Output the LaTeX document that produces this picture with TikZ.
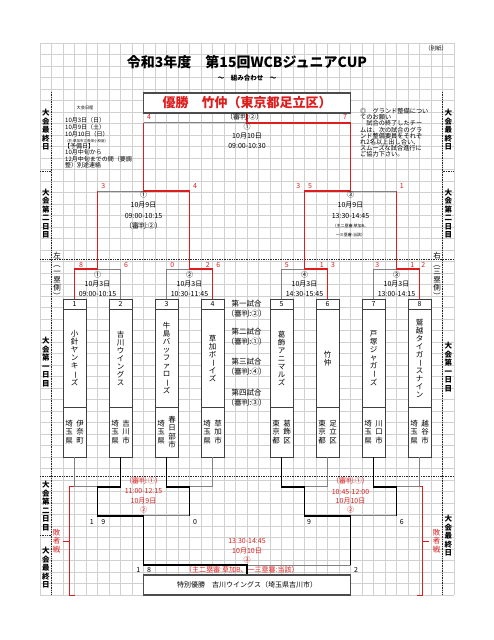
\documentclass[tikz,border=0pt]{standalone}
\usepackage{fontspec}
\setmainfont{Noto Sans CJK JP}
\usetikzlibrary{calc}
\definecolor{rd}{RGB}{222,30,30}
\definecolor{gr}{RGB}{130,130,130}
\definecolor{gridc}{RGB}{208,208,208}
\newcommand\vb{\rotatebox[origin=c]{-90}{ー}}
\newcommand\vlp{\rotatebox[origin=c]{-90}{（}}
\newcommand\vrp{\rotatebox[origin=c]{-90}{）}}
\newcommand\fs[2]{\fontsize{#1}{#2}\selectfont}
\newcommand\team[6]{%
  \node[cell,minimum height=10.5,font=\fs{7}{7}] (n#1) at (#2,304.25) {#3};
  \node[cell,minimum height=97.5,vtext,font=\fs{7.5}{8}] (nm#1) at (#2,358.25) {#4};
  \node[cell,minimum height=50] (ad#1) at (#2,432) {};
  \node[vtext,font=\fs{7.5}{8.5}] (pf#1) at ($(ad#1.center)+(-5.5,0)$) {#5};
  \node[vtext,font=\fs{7.5}{8.5}] (ct#1) at ($(ad#1.center)+(5.5,0)$) {#6};
}
\tikzset{
  gridl/.style={draw=gridc, line width=0.4},
  dots/.style={densely dotted, line width=0.7, draw=black!85},
  lose/.style={draw=gr, line width=0.7},
  win/.style={draw=rd, line width=1.8},
  cons/.style={draw=black, line width=1.8},
  txt/.style={inner sep=0, font=\fs{7}{7}},
  rtxt/.style={txt, text=rd},
  score/.style={inner sep=0, font=\fs{7}{7}, text=rd},
  bscore/.style={score, text=black},
  cell/.style={draw=black!75, line width=0.8, fill=white, inner sep=0, minimum width=23},
  vtext/.style={align=center, inner sep=0},
  side/.style={vtext, font=\fs{7.5}{8.5}\bfseries},
  note/.style={inner sep=0, anchor=west, font=\fs{6}{6}},
  rnote/.style={inner sep=0, anchor=west, font=\fs{6.2}{6.2}},
  bigbox/.style={draw=black!70, line width=1.8, fill=white, minimum width=207, minimum height=20, inner sep=0},
  brk/.style={draw=rd, line width=0.8},
}
\begin{document}
\begin{tikzpicture}[x=1pt,y=-1pt]
\useasboundingbox (0,0) rectangle (494,640);
\fill[white] (0,0) rectangle (494,640);
% grid
\foreach \i in {0,...,36} \draw[gridl] (40+\i*11.5,43) -- (40+\i*11.5,595);
\foreach \j in {0,...,48} \draw[gridl] (40,43+\j*11.5) -- (454,43+\j*11.5);
% dotted separators
\draw[dots] (51.5,92) -- (51.5,595);
\draw[dots] (442.5,92) -- (442.5,595);
\draw[dots] (40,171.7) -- (51.5,171.7);
\draw[dots] (442.5,171.7) -- (454,171.7);
\draw[dots] (40,259.3) -- (454,259.3);
\draw[dots] (40,476.7) -- (454,476.7);
\draw[dots] (40,535) -- (51.5,535);
% header
\node[inner sep=0,font=\fs{14}{14}\bfseries] (title) at (247,62.5) {令和3年度　第15回WCBジュニアCUP};
\node[inner sep=0,font=\fs{5.5}{5.5}] (bessi) at (436,48.3) {（別紙）};
\node[inner sep=0,font=\fs{6.5}{6.5}\bfseries] (kumi) at (247,77.7) {～　組み合わせ　～};
% champion
\node[bigbox,text=rd,font=\fs{13}{13}\bfseries] (champ) at (247,103) {優勝　竹仲（東京都足立区）};
% left notes
\node[inner sep=0,font=\fs{4.2}{4.2}] (nt0) at (85,108) {大会日程};
\node[note] (nt1) at (65,120.3) {10月3日（日）};
\node[note] (nt2) at (65,127.5) {10月9日（土）};
\node[note] (nt3) at (65,134.7) {10月10日（日）};
\node[note,font=\fs{3.5}{3.5}] (nt4) at (65,140.7) {（於:草加市立長栄小校庭）};
\node[note] (nt5) at (64,146.3) {【予備日】};
\node[note] (nt6) at (65,152.5) {10月中旬から};
\node[note] (nt7) at (65,158.8) {12月中旬までの間（要調};
\node[note] (nt8) at (65,165) {整）別途連絡};
% right notes
\node[rnote] (rn1) at (360,111.3) {◎　グランド整備につい};
\node[rnote] (rn2) at (360,117.4) {てのお願い};
\node[rnote] (rn3) at (360,123.6) {　試合の終了したチー};
\node[rnote] (rn4) at (360,129.7) {ムは、次の試合のグラ};
\node[rnote] (rn5) at (360,135.9) {ンド整備要員をそれぞ};
\node[rnote] (rn6) at (360,142) {れ2名以上出し合い、};
\node[rnote] (rn7) at (360,148.2) {スムーズな試合進行に};
\node[rnote] (rn8) at (360,154.3) {ご協力下さい。};
% side labels
\node[side] (sl1) at (45.8,130) {大\\会\\最\\終\\日};
\node[side] (sl2) at (45.8,213.5) {大\\会\\第\\二\\日\\目};
\node[side] (sl3) at (45.8,362) {大\\会\\第\\一\\日\\目};
\node[side] (sl4) at (45.8,506) {大\\会\\第\\二\\日\\目};
\node[side] (sl5) at (45.8,568) {大\\会\\最\\終\\日};
\node[side] (sr1) at (448.3,130) {大\\会\\最\\終\\日};
\node[side] (sr2) at (448.3,213.5) {大\\会\\第\\二\\日\\目};
\node[side] (sr3) at (448.3,367) {大\\会\\第\\一\\日\\目};
\node[side] (sr4) at (448.3,536) {大\\会\\最\\終\\日};
\node[vtext,font=\fs{7.5}{8}] (lside) at (57,276) {左\\\vlp\\一\\塁\\側\\\vrp};
\node[vtext,font=\fs{7.5}{8}] (rside) at (437,276) {右\\\vlp\\三\\塁\\側\\\vrp};
\node[vtext,font=\fs{7.5}{8.3},text=rd] (hl) at (56.7,541) {敗\\者\\戦};
\node[vtext,font=\fs{7.5}{8.3},text=rd] (hr) at (436.7,541) {敗\\者\\戦};
% red brackets
\coordinate (bl1) at (75,486.7); \coordinate (bl2) at (69,486.7);
\coordinate (bl3) at (69,595); \coordinate (bl4) at (75,595);
\coordinate (bl5) at (69,541); \coordinate (bl6) at (63,541);
\draw[brk] (bl1) -- (bl2) -- (bl3) -- (bl4);
\draw[brk] (bl5) -- (bl6);
\coordinate (br1) at (417,486.7); \coordinate (br2) at (422.7,486.7);
\coordinate (br3) at (422.7,595); \coordinate (br4) at (417,595);
\coordinate (br5) at (422.7,541); \coordinate (br6) at (428.5,541);
\draw[brk] (br1) -- (br2) -- (br3) -- (br4);
\draw[brk] (br5) -- (br6);
% teams
\team{1}{74.5}{1}{小\\針\\ヤ\\ン\\キ\\\vb\\ズ}{埼\\玉\\県}{伊\\奈\\町}
\team{2}{120.5}{2}{吉\\川\\ウ\\イ\\ン\\グ\\ス}{埼\\玉\\県}{吉\\川\\市}
\team{3}{166.5}{3}{牛\\島\\バ\\ッ\\フ\\ァ\\ロ\\\vb\\ズ}{埼\\玉\\県}{春\\日\\部\\市}
\team{4}{212.5}{4}{草\\加\\ボ\\\vb\\イ\\ズ}{埼\\玉\\県}{草\\加\\市}
\team{5}{281.5}{5}{葛\\飾\\ア\\ニ\\マ\\ル\\ズ}{東\\京\\都}{葛\\飾\\区}
\team{6}{327.5}{6}{竹\\仲}{東\\京\\都}{足\\立\\区}
\team{7}{373.5}{7}{戸\\塚\\ジ\\ャ\\ガ\\\vb\\ズ}{埼\\玉\\県}{川\\口\\市}
\team{8}{419.5}{8}{鷲\\越\\タ\\イ\\ガ\\\vb\\ス\\ナ\\イ\\ン}{埼\\玉\\県}{越\\谷\\市}
% bracket coordinates
\coordinate (m1) at (97.5,269); \coordinate (m2) at (189.5,269);
\coordinate (m4) at (304.5,269); \coordinate (m3) at (396.5,269);
\coordinate (sL) at (143.5,191); \coordinate (sR) at (350.5,191);
\coordinate (fC) at (247,122.7);
\coordinate (c1) at (97.5,486.7); \coordinate (c2) at (189.5,486.7);
\coordinate (c4) at (304.5,486.7); \coordinate (c3) at (396.5,486.7);
\coordinate (csL) at (143.5,515.7); \coordinate (csR) at (350.5,515.7);
\coordinate (cf) at (247,565);
% losing (gray) lines, upper
\draw[lose] (n2.north) |- (m1);
\draw[lose] (n3.north) |- (m2);
\draw[lose] (n5.north) |- (m4);
\draw[lose] (n7.north) |- (m3);
\draw[lose] (m1 |- sL) -- (sL);
\draw[lose] (m3 |- sR) -- (sR);
\draw[lose] (sL |- fC) -- (fC);
% winning (red) lines
\draw[win] (n1.north) |- (m1) -- (m1 |- sL);
\draw[win] (n4.north) |- (m2) -- (m2 |- sL) -- (sL) -- (sL |- fC);
\draw[win] (n6.north) |- (m4) -- (m4 |- sR) -- (sR) -- (sR |- fC) -- (fC) -- (champ.south);
\draw[win] (n8.north) |- (m3) -- (m3 |- sR);
% consolation gray
\draw[lose] (ad1.south) |- (c1);
\draw[lose] (ad4.south) |- (c2);
\draw[lose] (ad6.south) |- (c4);
\draw[lose] (ad8.south) |- (c3);
\draw[lose] (c2 |- csL) -- (csL);
\draw[lose] (c3 |- csR) -- (csR);
\draw[lose] (csR |- cf) -- (cf);
% special box
\node[bigbox,font=\fs{7}{7}] (spec) at (247,585) {特別優勝　吉川ウイングス（埼玉県吉川市）};
% consolation black
\draw[cons] (ad2.south) |- (c1) -- (c1 |- csL) -- (csL) -- (csL |- cf) -- (cf) -- (spec.north);
\draw[cons] (ad3.south) |- (c2) -- (c2 |- csL);
\draw[cons] (ad5.south) |- (c4) -- (c4 |- csR) -- (csR) -- (csR |- cf);
\draw[cons] (ad7.south) |- (c3) -- (c3 |- csR);
% final texts
\node[txt,anchor=west] (fj) at (226,117.3) {（審判:②）};
\node[txt] (fn) at (247,126.5) {①};
\node[txt] (fd) at (247,136.5) {10月10日};
\node[txt] (ft) at (247,146.5) {09:00-10:30};
\node[score] (fs1) at (149,117.3) {4};
\node[score] (fs2) at (345,117.3) {7};
% semifinal texts
\node[txt] (sLn) at (143.5,195) {①};
\node[txt] (sLd) at (143.5,205) {10月9日};
\node[txt] (sLt) at (143.5,215.7) {09:00-10:15};
\node[txt] (sLj) at (143.5,226) {（審判:②）};
\node[txt] (sRn) at (350.5,195) {③};
\node[txt] (sRd) at (350.5,205) {10月9日};
\node[txt] (sRt) at (350.5,215.7) {13:30-14:45};
\node[txt,font=\fs{4}{4}] (sRj1) at (350.5,226) {（主二塁審:草加B、};
\node[txt,font=\fs{4}{4}] (sRj2) at (350.5,235) {一三塁審:当該）};
\node[score] (ss1) at (103.3,186.3) {3};
\node[score] (ss2) at (195,186.3) {4};
\node[score] (ss3) at (298.3,186.3) {3};
\node[score] (ss4) at (310,186.3) {5};
\node[score] (ss5) at (401.7,186.3) {1};
% first round texts
\node[txt] (m1n) at (97.5,275) {①};
\node[txt] (m1d) at (97.5,284.5) {10月3日};
\node[txt] (m1t) at (97.5,294) {09:00-10:15};
\node[txt] (m2n) at (189.5,275) {②};
\node[txt] (m2d) at (189.5,284.5) {10月3日};
\node[txt] (m2t) at (189.5,294) {10:30-11:45};
\node[txt] (m4n) at (304.5,275) {④};
\node[txt] (m4d) at (304.5,284.5) {10月3日};
\node[txt] (m4t) at (304.5,294) {14:30-15:45};
\node[txt] (m3n) at (396.5,275) {③};
\node[txt] (m3d) at (396.5,284.5) {10月3日};
\node[txt] (m3t) at (396.5,294) {13:00-14:15};
\node[score] (r1) at (81,265) {8};
\node[score] (r2) at (126,265) {6};
\node[score] (r3) at (172.3,265) {0};
\node[score] (r4) at (207.7,265) {2};
\node[score] (r5) at (218.3,265) {6};
\node[score] (r6) at (286.7,265) {5};
\node[score] (r7) at (321.7,265) {1};
\node[score] (r8) at (333,265) {3};
\node[score] (r9) at (377.3,265) {3};
\node[score] (r10) at (412.3,265) {1};
\node[score] (r11) at (423.3,265) {2};
% center schedule labels
\node[txt,font=\fs{7.5}{7.5}] (g1) at (246.7,303.5) {第一試合};
\node[txt,font=\fs{7.5}{7.5}] (g1j) at (246.7,313.5) {（審判:②）};
\node[txt,font=\fs{7.5}{7.5}] (g2) at (246.7,332) {第二試合};
\node[txt,font=\fs{7.5}{7.5}] (g2j) at (246.7,342) {（審判:①）};
\node[txt,font=\fs{7.5}{7.5}] (g3) at (246.7,362) {第三試合};
\node[txt,font=\fs{7.5}{7.5}] (g3j) at (246.7,372) {（審判:④）};
\node[txt,font=\fs{7.5}{7.5}] (g4) at (246.7,392.5) {第四試合};
\node[txt,font=\fs{7.5}{7.5}] (g4j) at (246.7,402.5) {（審判:③）};
% consolation texts
\node[rtxt] (cLj) at (143.5,480.5) {（審判:①）};
\node[rtxt] (cLt) at (143.5,491) {11:00-12:15};
\node[rtxt] (cLd) at (143.5,500.7) {10月9日};
\node[rtxt] (cLn) at (143.5,509.5) {②};
\node[rtxt] (cRj) at (350.5,480.5) {（審判:①）};
\node[rtxt] (cRt) at (350.5,491.5) {10:45-12:00};
\node[rtxt] (cRd) at (350.5,501.5) {10月10日};
\node[rtxt] (cRn) at (350.5,510) {②};
\node[rtxt] (cFt) at (247,540.7) {13:30-14:45};
\node[rtxt] (cFd) at (247,550.7) {10月10日};
\node[rtxt] (cFn) at (247,560) {③};
\node[rtxt,anchor=west] (cFj) at (185,570.3) {（主二塁審:草加B、一三塁審:当該）};
\node[bscore] (k1) at (91.7,521.7) {1};
\node[bscore] (k2) at (103.3,521.7) {9};
\node[bscore] (k3) at (195,521.7) {0};
\node[bscore] (k4) at (309,521.7) {9};
\node[bscore] (k5) at (401.7,521.7) {6};
\node[bscore] (k6) at (138.3,570.3) {1};
\node[bscore] (k7) at (149,570.3) {8};
\node[bscore] (k8) at (356,570.3) {2};
\end{tikzpicture}
\end{document}
